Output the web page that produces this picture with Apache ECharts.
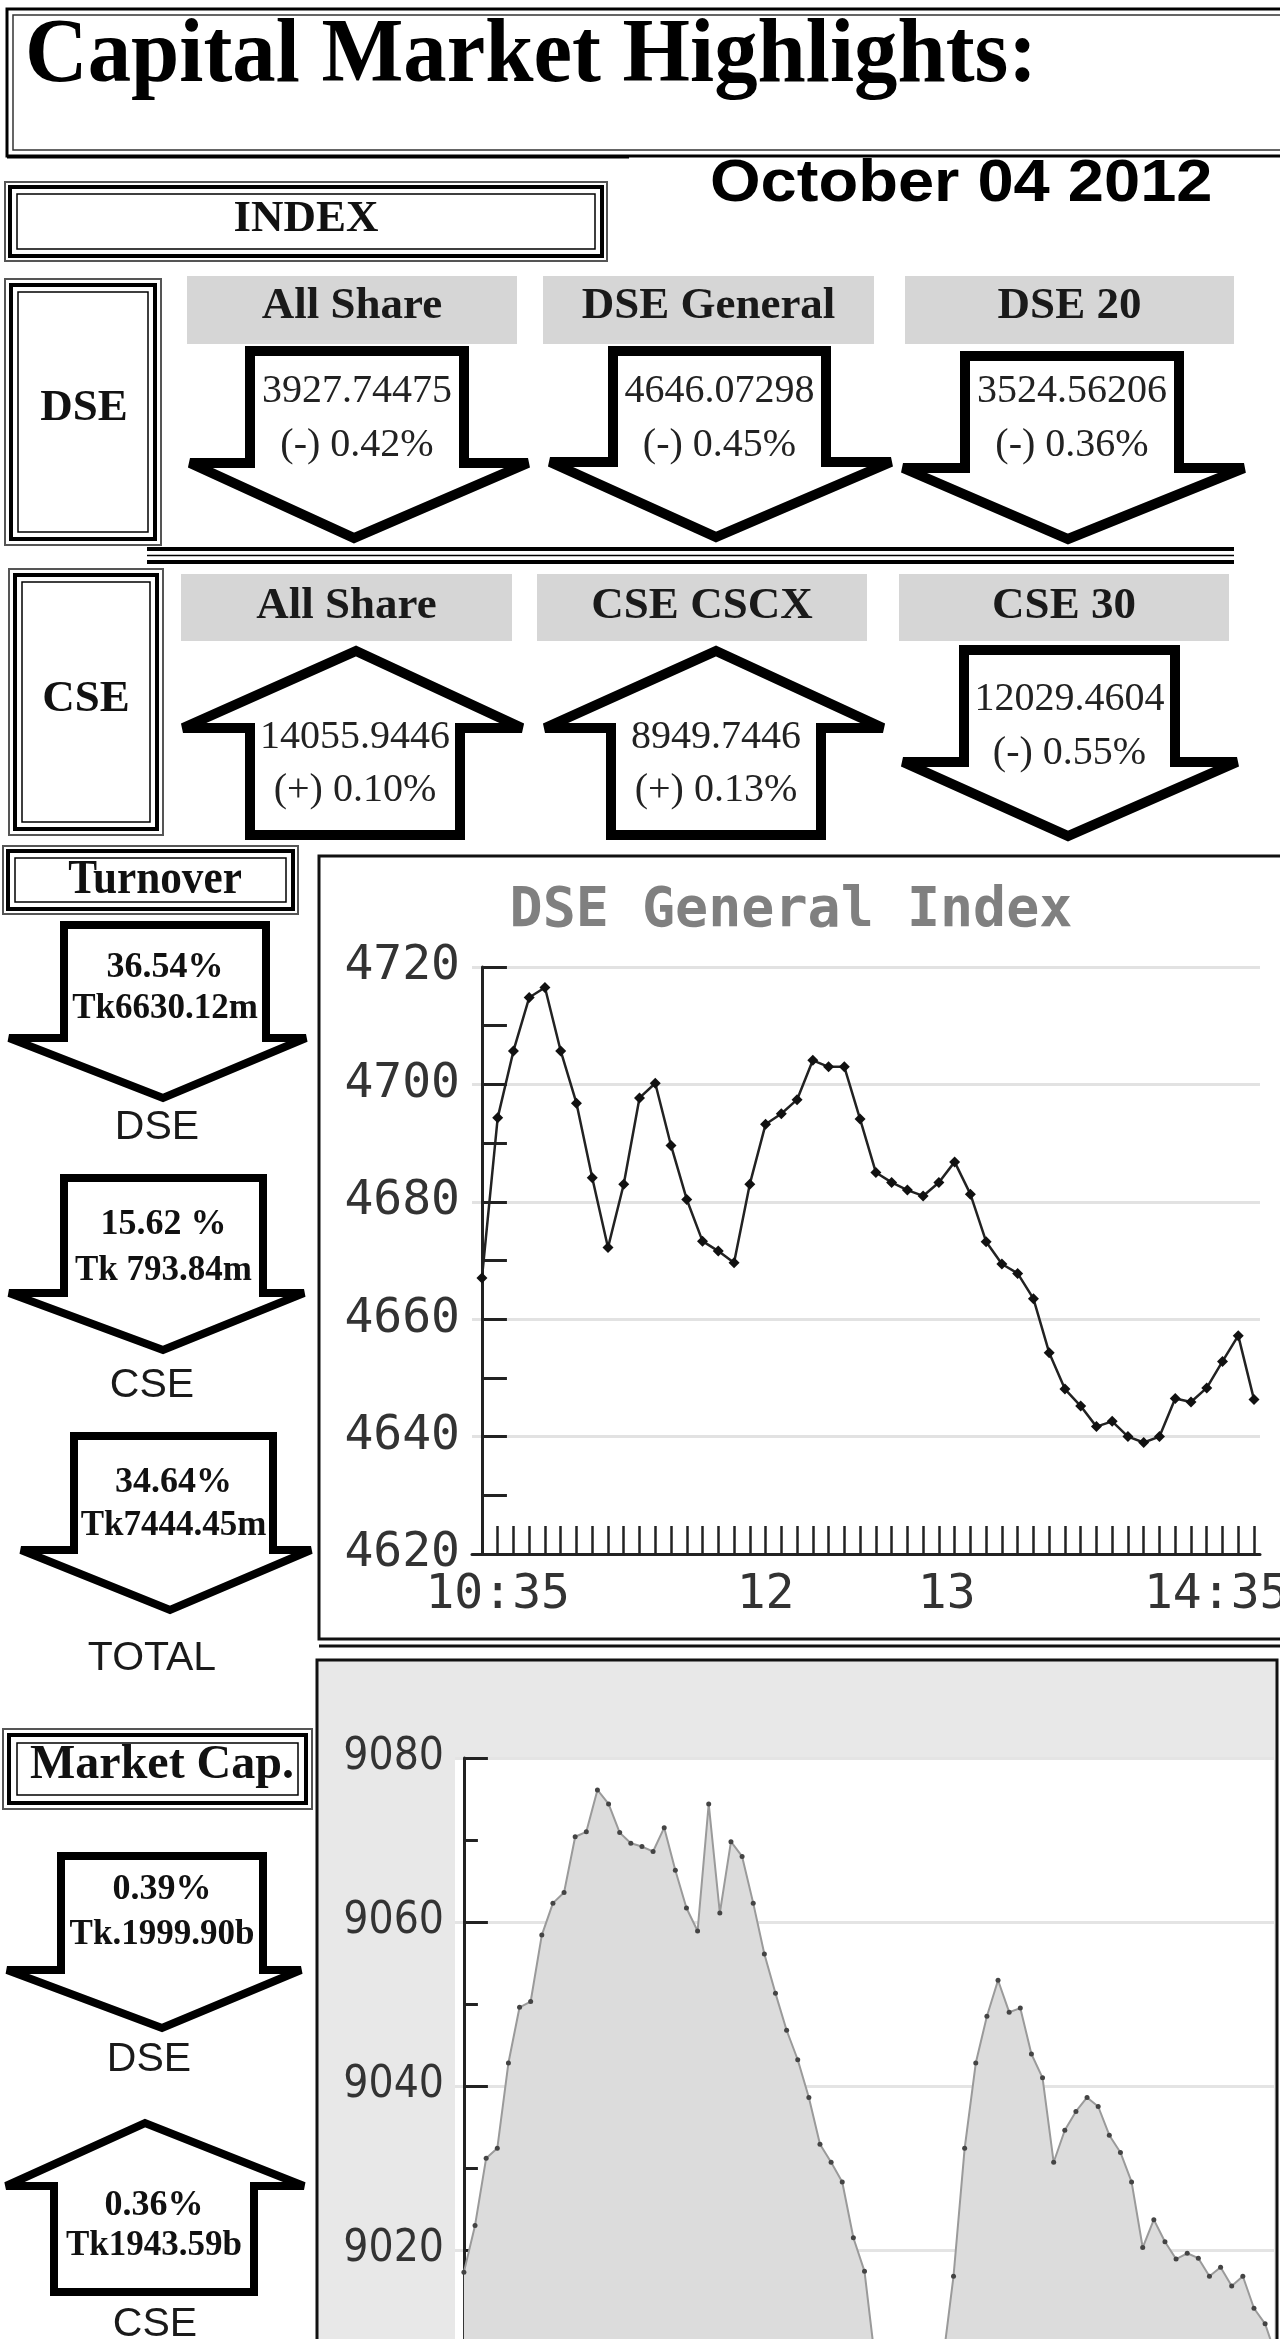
<!DOCTYPE html>
<html><head><meta charset="utf-8">
<script src="https://cdn.jsdelivr.net/npm/echarts@6/dist/echarts.min.js"></script>
<style>html,body{margin:0;padding:0;background:#fff}#c{width:1280px;height:2339px}</style>
</head><body><div id="c"></div>
<script>
// ---------------- DATA ----------------
const titleText = 'Capital Market Highlights:';
const dateText = 'October 04 2012';
const dseIndexNames = ['All Share', 'DSE General', 'DSE 20'];
const dseIndexValues = ['3927.74475', '4646.07298', '3524.56206'];
const dseIndexChanges = ['(-) 0.42%', '(-) 0.45%', '(-) 0.36%'];
const cseIndexNames = ['All Share', 'CSE CSCX', 'CSE 30'];
const cseIndexValues = ['14055.9446', '8949.7446', '12029.4604'];
const cseIndexChanges = ['(+) 0.10%', '(+) 0.13%', '(-) 0.55%'];
const turnoverLabels = ['DSE', 'CSE', 'TOTAL'];
const turnoverPct = ['36.54%', '15.62 %', '34.64%'];
const turnoverAmt = ['Tk6630.12m', 'Tk 793.84m', 'Tk7444.45m'];
const mcapLabels = ['DSE', 'CSE'];
const mcapPct = ['0.39%', '0.36%'];
const mcapAmt = ['Tk.1999.90b', 'Tk1943.59b'];

// DSE General Index intraday (one point per 5-minute slot)
const dseGeneral = [4667.0, 4694.3, 4705.7, 4714.8, 4716.5, 4705.7, 4696.8, 4684.1, 4672.2, 4683.0,
  4697.7, 4700.2, 4689.6, 4680.4, 4673.3, 4671.6, 4669.6, 4683.0, 4693.2, 4695.0,
  4697.4, 4704.1, 4703.0, 4703.0, 4694.1, 4685.0, 4683.3, 4682.0, 4681.0, 4683.3,
  4686.8, 4681.3, 4673.2, 4669.4, 4667.8, 4663.5, 4654.3, 4648.1, 4645.2, 4641.7,
  4642.6, 4640.0, 4639.0, 4640.0, 4646.5, 4645.9, 4648.3, 4652.8, 4657.2, 4646.3];
const dseXLabelPos = [1, 18, 29.5, 46.6];
const dseXLabelText = ['10:35', '12', '13', '14:35'];
const dseYMin = 4620, dseYMax = 4720, dseYStep = 20;

// CSE intraday index
const cseValues = [9017.3, 9023.0, 9031.2, 9032.4, 9042.8, 9049.6, 9050.3, 9058.4, 9062.3, 9063.6,
  9070.4, 9071.0, 9076.1, 9074.4, 9070.9, 9069.6, 9069.2, 9068.6, 9071.5, 9066.3,
  9061.7, 9058.9, 9074.4, 9061.1, 9069.8, 9068.0, 9062.3, 9056.1, 9051.3, 9046.8,
  9043.2, 9038.6, 9032.9, 9030.7, 9028.3, 9021.5, 9017.4, 9006.0, 9000.0, 8996.0,
  8994.0, 8995.0, 8999.0, 9006.0, 9016.8, 9032.4, 9042.8, 9048.5, 9052.9, 9049.0,
  9049.5, 9043.9, 9041.0, 9030.7, 9034.6, 9036.9, 9038.6, 9037.5, 9034.0, 9031.9,
  9028.3, 9020.3, 9023.7, 9021.0, 9018.9, 9019.6, 9019.0, 9016.8, 9017.9, 9015.6,
  9016.8, 9012.9, 9011.0, 9007.0];
const cseYMin = 8980, cseYMax = 9080, cseYStep = 20;

// ---------------- LAYOUT ----------------
const SERIF = '"Liberation Serif", "Times New Roman", serif';
const SANS = '"Liberation Sans", Arial, sans-serif';
const G = [];
const Z = -10;
function rect(x, y, w, h, style, z) { G.push({ type: 'rect', z: z == null ? Z : z, silent: true, shape: { x, y, width: w, height: h }, style }); }
function line(x1, y1, x2, y2, lw, c) { G.push({ type: 'line', z: Z, silent: true, shape: { x1, y1, x2, y2 }, style: { stroke: c || '#000', lineWidth: lw } }); }
function text(t, x, y, font, o) {
  o = o || {};
  G.push({ type: 'text', z: Z + 2, silent: true, x, y, scaleX: o.sx || 1,
    style: { text: t, font, fill: o.fill || '#111', textAlign: o.align || 'center', align: o.align || 'center',
      textVerticalAlign: 'middle', verticalAlign: 'middle' } });
}
function frame(x, y, w, h, o2, o3) {
  rect(x, y, w, h, { fill: '#fff', stroke: '#555', lineWidth: 2 });
  rect(x + o2, y + o2, w - 2 * o2, h - 2 * o2, { fill: 'none', stroke: '#000', lineWidth: 4 });
  rect(x + o3, y + o3, w - 2 * o3, h - 2 * o3, { fill: 'none', stroke: '#000', lineWidth: 1.5 });
}
function arrow(a, lw) {
  const pts = [[a.sl, a.base], [a.sr, a.base], [a.sr, a.sh], [a.hr, a.sh], [a.tx, a.tip], [a.hl, a.sh], [a.sl, a.sh]];
  G.push({ type: 'polygon', z: Z + 1, silent: true, shape: { points: pts },
    style: { fill: '#fff', stroke: '#000', lineWidth: lw, lineJoin: 'miter', miterLimit: 3 } });
}

// Title box
rect(7, 9, 1300, 147, { fill: '#fff', stroke: '#000', lineWidth: 3 });
rect(13, 15, 1290, 135, { fill: 'none', stroke: '#333', lineWidth: 1.5 });
line(7, 157, 629, 157, 3);
text(titleText, 25, 58, 'bold 90px ' + SERIF, { align: 'left', sx: 0.964, fill: '#000' });
text(dateText, 710, 184, 'bold 60px ' + SANS, { align: 'left', sx: 1.084, fill: '#000' });

// INDEX box
frame(5, 182, 602, 79, 5, 12);
text('INDEX', 306, 219, 'bold 45px ' + SERIF);

// DSE row
frame(5, 279, 156, 266, 6, 13);
text('DSE', 84, 408, 'bold 45px ' + SERIF);
const dseBars = [[187, 330], [543, 331], [905, 329]];
const dseArrows = [
  { sl: 250, sr: 464, hl: 190, hr: 528, tx: 354, base: 351, sh: 463, tip: 538 },
  { sl: 613, sr: 826, hl: 550, hr: 891, tx: 716, base: 351, sh: 462, tip: 537 },
  { sl: 965, sr: 1179, hl: 903, hr: 1244, tx: 1068, base: 356, sh: 468, tip: 539 }];
dseIndexNames.forEach((n, i) => {
  const [bx, bw] = dseBars[i];
  rect(bx, 276, bw, 68, { fill: '#d6d6d6' });
  text(n, bx + bw / 2, 306, 'bold 45px ' + SERIF, { fill: '#1a1a1a' });
  const a = dseArrows[i];
  arrow(a, 10);
  const cx = (a.sl + a.sr) / 2;
  text(dseIndexValues[i], cx, 391, '40px ' + SERIF, { fill: '#222' });
  text(dseIndexChanges[i], cx, 445, '40px ' + SERIF, { fill: '#222' });
});

// separator
line(147, 549, 1234, 549, 4);
line(147, 555.5, 1234, 555.5, 1.5);
line(147, 562, 1234, 562, 4);

// CSE row
frame(9, 569, 154, 266, 6, 13);
text('CSE', 86, 699, 'bold 45px ' + SERIF);
const cseBars = [[181, 331], [537, 330], [899, 330]];
const cseArrows = [
  { sl: 250, sr: 460, hl: 183, hr: 522, tx: 356, base: 835, sh: 728, tip: 651 },
  { sl: 611, sr: 821, hl: 545, hr: 883, tx: 716, base: 835, sh: 728, tip: 651 },
  { sl: 964, sr: 1175, hl: 903, hr: 1237, tx: 1068, base: 650, sh: 762, tip: 836 }];
const cseTextY = [[737, 790], [737, 790], [699, 753]];
cseIndexNames.forEach((n, i) => {
  const [bx, bw] = cseBars[i];
  rect(bx, 574, bw, 67, { fill: '#d6d6d6' });
  text(n, bx + bw / 2, 606, 'bold 45px ' + SERIF, { fill: '#1a1a1a' });
  const a = cseArrows[i];
  arrow(a, 10);
  const cx = (a.sl + a.sr) / 2;
  text(cseIndexValues[i], cx, cseTextY[i][0], '40px ' + SERIF, { fill: '#222' });
  text(cseIndexChanges[i], cx, cseTextY[i][1], '40px ' + SERIF, { fill: '#222' });
});

// Turnover
frame(3, 846, 295, 68, 5, 12);
text('Turnover', 155, 881, 'bold 48px ' + SERIF, { sx: 0.9 });
const toArrows = [
  { sl: 64, sr: 266, hl: 9, hr: 306, tx: 163, base: 925, sh: 1038, tip: 1098 },
  { sl: 64, sr: 263, hl: 9, hr: 304, tx: 163, base: 1178, sh: 1293, tip: 1350 },
  { sl: 74, sr: 273, hl: 21, hr: 311, tx: 170, base: 1436, sh: 1550, tip: 1610 }];
const toTextY = [[968, 1009], [1225, 1271], [1483, 1526]];
const toLabelPos = [[157, 1128], [152, 1386], [152, 1659]];
turnoverLabels.forEach((l, i) => {
  const a = toArrows[i];
  arrow(a, 8);
  const cx = (a.sl + a.sr) / 2;
  text(turnoverPct[i], cx, toTextY[i][0], 'bold 36px ' + SERIF);
  text(turnoverAmt[i], cx, toTextY[i][1], 'bold 35px ' + SERIF);
  text(l, toLabelPos[i][0], toLabelPos[i][1], '41px ' + SANS, { fill: '#1a1a1a' });
});

// Market cap
frame(3, 1729, 309, 80, 6, 14);
text('Market Cap.', 162, 1766, 'bold 48px ' + SERIF);
const mcArrows = [
  { sl: 61, sr: 263, hl: 7, hr: 301, tx: 162, base: 1856, sh: 1970, tip: 2028 },
  { sl: 54, sr: 254, hl: 6, hr: 304, tx: 145, base: 2292, sh: 2186, tip: 2123 }];
const mcTextY = [[1890, 1935], [2206, 2246]];
const mcLabelPos = [[149, 2060], [155, 2325]];
mcapLabels.forEach((l, i) => {
  const a = mcArrows[i];
  arrow(a, 8);
  const cx = (a.sl + a.sr) / 2;
  text(mcapPct[i], cx, mcTextY[i][0], 'bold 36px ' + SERIF);
  text(mcapAmt[i], cx, mcTextY[i][1], 'bold 35px ' + SERIF);
  text(l, mcLabelPos[i][0], mcLabelPos[i][1], '41px ' + SANS, { fill: '#1a1a1a' });
});

// DSE chart box
rect(319, 856, 1000, 783, { fill: '#fff', stroke: '#111', lineWidth: 3 });
line(319, 1646, 1280, 1646, 3, '#111');
text('DSE General Index', 791, 912, 'bold 55px "DejaVu Sans Mono", monospace', { fill: '#808080' });

// CSE chart box
rect(317, 1660, 960, 760, { fill: '#e8e8e8', stroke: '#111', lineWidth: 3 });
rect(455, 1758, 819, 700, { fill: '#fff' }, Z + 1);

// ---------------- CHART ----------------
const dseTickIdx = dseGeneral.map((v, i) => i);
const chart = echarts.init(document.getElementById('c'), null, { renderer: 'canvas', width: 1280, height: 2339 });
chart.setOption({
  animation: false,
  backgroundColor: '#fff',
  graphic: { elements: G },
  grid: [
    { left: 472, top: 967, width: 788, height: 587, outerBoundsMode: 'none', containLabel: false },
    { left: 455, top: 1758, width: 819, height: 820, outerBoundsMode: 'none', containLabel: false }
  ],
  xAxis: [
    { gridIndex: 0, type: 'value', min: -0.63, max: 49.38,
      axisLine: { onZero: false, lineStyle: { color: '#222', width: 3 } },
      axisTick: { show: true, inside: true, length: 28, customValues: dseTickIdx, lineStyle: { color: '#222', width: 2.5 } },
      axisLabel: { customValues: dseXLabelPos, formatter: v => dseXLabelText[dseXLabelPos.indexOf(v)] || '',
        fontFamily: '"DejaVu Sans Mono", monospace', fontSize: 48, color: '#333', margin: 18 },
      splitLine: { show: false } },
    { gridIndex: 1, type: 'value', min: -0.8, max: 72.8, show: false }
  ],
  yAxis: [
    { gridIndex: 0, type: 'value', min: dseYMin, max: dseYMax, interval: dseYStep,
      axisLine: { show: true, lineStyle: { color: '#222', width: 3 } },
      axisTick: { show: true, inside: true, length: 25, lineStyle: { color: '#222', width: 3 } },
      minorTick: { show: true, splitNumber: 2, length: 25, lineStyle: { color: '#222', width: 3 } },
      splitLine: { show: true, lineStyle: { color: '#e2e2e2', width: 3 } },
      axisLabel: { formatter: v => String(v), fontFamily: '"DejaVu Sans Mono", monospace', fontSize: 48, color: '#333', margin: 12 } },
    { gridIndex: 1, type: 'value', min: cseYMin, max: cseYMax, interval: cseYStep,
      axisLine: { show: true, lineStyle: { color: '#222', width: 3 } },
      axisTick: { show: true, inside: true, length: 24, lineStyle: { color: '#222', width: 3 } },
      minorTick: { show: true, splitNumber: 2, length: 14, lineStyle: { color: '#222', width: 3 } },
      splitLine: { show: true, lineStyle: { color: '#e4e4e4', width: 3 } },
      axisLabel: { formatter: v => String(v), fontFamily: '"DejaVu Sans Condensed", "DejaVu Sans", sans-serif', fontSize: 44, color: '#333', margin: 11 } }
  ],
  series: [
    { type: 'line', xAxisIndex: 0, yAxisIndex: 0, z: 5,
      data: dseGeneral.map((v, i) => [i, v]),
      symbol: 'diamond', symbolSize: 11, showSymbol: true,
      itemStyle: { color: '#111' }, lineStyle: { color: '#222', width: 2.5 } },
    { type: 'line', xAxisIndex: 1, yAxisIndex: 1, z: 5,
      data: cseValues.map((v, i) => [i, v]),
      symbol: 'circle', symbolSize: 5, showSymbol: true,
      itemStyle: { color: '#444' }, lineStyle: { color: '#9a9a9a', width: 2 },
      areaStyle: { color: '#dcdcdc', opacity: 1 } }
  ]
});
</script>
</body></html>
